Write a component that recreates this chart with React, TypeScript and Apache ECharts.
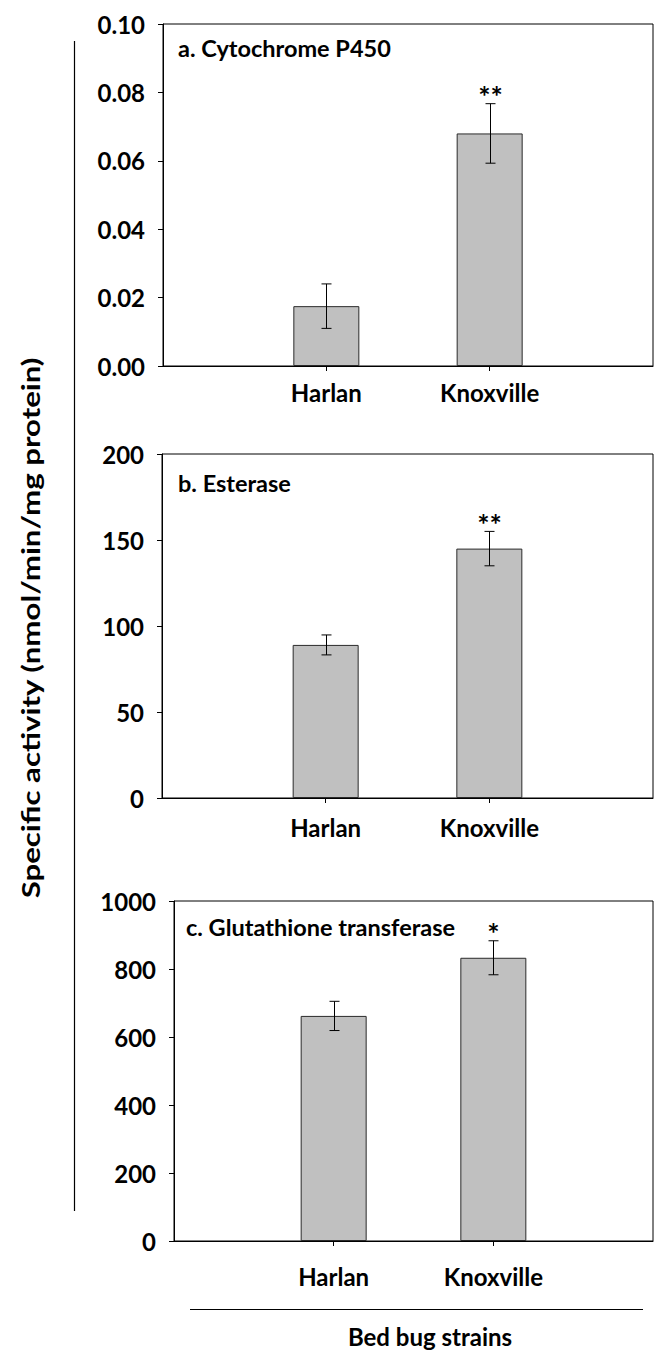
import React, { useEffect, useRef } from "react";
import * as echarts from "echarts";

const strains = ["Harlan", "Knoxville"];
const categories = ["", ...strains, ""];

const p450Mean = [0.0175, 0.068];
const p450Err = [0.0065, 0.0087];
const p450Sig = ["", "**"];
const p450Ticks = { min: 0, max: 0.1, interval: 0.02 };

const estMean = [89, 145];
const estErr = [5.8, 10];
const estSig = ["", "**"];
const estTicks = { min: 0, max: 200, interval: 50 };

const gstMean = [662, 833];
const gstErr = [43, 50];
const gstSig = ["", "*"];
const gstTicks = { min: 0, max: 1000, interval: 200 };

const panelTitles = ["a. Cytochrome P450", "b. Esterase", "c. Glutathione transferase"];
const yTitle = "Specific activity (nmol/min/mg protein)";
const xTitle = "Bed bug strains";

const FONT = "Lato";
const FS = 24;

export default function App() {
  const ref = useRef<HTMLDivElement>(null);
  useEffect(() => {
    if (!ref.current) return;
    const chart = echarts.init(ref.current, null, { renderer: "svg" });

    const grids = [
      { left: 163, top: 24, width: 490, height: 342 },
      { left: 162, top: 454, width: 491, height: 344 },
      { left: 174, top: 901, width: 479, height: 340 },
    ];
    const panels = [
      { mean: p450Mean, err: p450Err, sig: p450Sig, ticks: p450Ticks, fmt: (v: number) => v.toFixed(2), labelMargin: 14 },
      { mean: estMean, err: estErr, sig: estSig, ticks: estTicks, fmt: (v: number) => String(v), labelMargin: 17 },
      { mean: gstMean, err: gstErr, sig: gstSig, ticks: gstTicks, fmt: (v: number) => String(v), labelMargin: 23 },
    ];

    const showIdx = (i: number) => i === 1 || i === 2;
    const textStyle = { color: "#000", fontFamily: FONT, fontWeight: "bold" as const, fontSize: FS };

    const series: any[] = [];
    panels.forEach((p, k) => {
      series.push({
        type: "bar",
        xAxisIndex: k,
        yAxisIndex: k,
        barWidth: 66,
        z: 2,
        data: ["-", ...p.mean, "-"],
        itemStyle: { color: "#c0c0c0", borderColor: "#2a2a2a", borderWidth: 1 },
        silent: true,
      });
      const sig = p.sig;
      series.push({
        type: "custom",
        xAxisIndex: k,
        yAxisIndex: k,
        z: 5,
        silent: true,
        data: p.mean.map((m, i) => [i + 1, m, p.err[i]]),
        renderItem: (params: any, api: any) => {
          const x = api.value(0);
          const m = api.value(1);
          const e = api.value(2);
          const hi = api.coord([x, m + e]);
          const lo = api.coord([x, m - e]);
          const cx = Math.round(hi[0]) + 0.5;
          const lineStyle = { stroke: "#000", lineWidth: 1 };
          const children: any[] = [
            { type: "line", shape: { x1: cx, y1: hi[1], x2: cx, y2: lo[1] }, style: lineStyle },
            { type: "line", shape: { x1: cx - 5, y1: hi[1], x2: cx + 5, y2: hi[1] }, style: lineStyle },
            { type: "line", shape: { x1: cx - 5, y1: lo[1], x2: cx + 5, y2: lo[1] }, style: lineStyle },
          ];
          const s = sig[params.dataIndex];
          if (s) {
            children.push({
              type: "text",
              style: {
                text: s,
                x: cx,
                y: hi[1] - 8,
                align: "center",
                verticalAlign: "middle",
                textAlign: "center",
                textVerticalAlign: "middle",
                fill: "#000",
                font: `bold 29px ${FONT}`,
              },
            });
          }
          return { type: "group", children };
        },
      });
    });

    const graphic: any[] = [];
    const titleY = [48, 483, 927];
    const titleX = [178, 178, 186];
    panelTitles.forEach((t, k) => {
      graphic.push({
        type: "text",
        x: titleX[k],
        y: titleY[k],
        silent: true,
        style: {
          text: t,
          fill: "#000",
          font: `bold 23.5px ${FONT}`,
          textVerticalAlign: "middle",
          verticalAlign: "middle",
        },
      });
    });
    graphic.push({
      type: "line",
      silent: true,
      shape: { x1: 74.5, y1: 41, x2: 74.5, y2: 1211 },
      style: { stroke: "#000", lineWidth: 1.2 },
    });
    graphic.push({
      type: "text",
      x: 31,
      y: 628,
      rotation: Math.PI / 2,
      scaleX: 1.3,
      silent: true,
      style: {
        text: yTitle,
        fill: "#000",
        font: `bold ${FS}px ${FONT}`,
        align: "center",
        verticalAlign: "middle",
        textAlign: "center",
        textVerticalAlign: "middle",
      },
    });
    graphic.push({
      type: "line",
      silent: true,
      shape: { x1: 190, y1: 1309.5, x2: 643, y2: 1309.5 },
      style: { stroke: "#000", lineWidth: 1.2 },
    });
    graphic.push({
      type: "text",
      x: 430,
      y: 1336,
      silent: true,
      style: {
        text: xTitle,
        fill: "#000",
        font: `bold ${FS}px ${FONT}`,
        align: "center",
        verticalAlign: "middle",
        textAlign: "center",
        textVerticalAlign: "middle",
      },
    });

    chart.setOption({
      animation: false,
      grid: grids.map((g) => ({ ...g, show: true, borderColor: "#000", borderWidth: 1, backgroundColor: "transparent" })),
      xAxis: panels.map((p, k) => ({
        type: "category",
        gridIndex: k,
        data: categories,
        boundaryGap: false,
        axisLine: { show: true, lineStyle: { color: "#000", width: 1 } },
        axisTick: { show: true, length: 5, inside: false, interval: (i: number) => showIdx(i), lineStyle: { color: "#000" } },
        axisLabel: { ...textStyle, interval: (i: number) => showIdx(i), margin: p.labelMargin },
        splitLine: { show: false },
      })),
      yAxis: panels.map((p, k) => ({
        type: "value",
        gridIndex: k,
        min: p.ticks.min,
        max: p.ticks.max,
        interval: p.ticks.interval,
        axisLine: { show: true, lineStyle: { color: "#000", width: 1 } },
        axisTick: { show: true, length: 5, inside: false, lineStyle: { color: "#000" } },
        axisLabel: { ...textStyle, margin: 18, formatter: p.fmt },
        splitLine: { show: false },
      })),
      series,
      graphic,
    });

    return () => chart.dispose();
  }, []);

  return (
    <div
      ref={ref}
      style={{ position: "absolute", left: 0, top: 0, width: 654, height: 1352, background: "#fff" }}
    />
  );
}
